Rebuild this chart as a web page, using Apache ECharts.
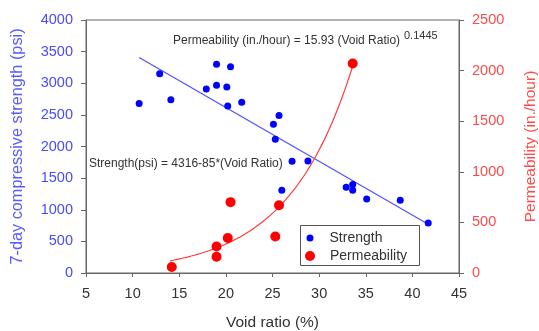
<!DOCTYPE html>
<html><head><meta charset="utf-8">
<script src="https://cdn.jsdelivr.net/npm/echarts@6/dist/echarts.min.js"></script>
<style>html,body{margin:0;padding:0;background:#fff}#c{width:539px;height:331px}</style>
</head><body><div id="c"></div>
<script>
// Void ratio (%) and 7-day compressive strength (psi)
const strengthVoid = [10.7, 12.9, 14.1, 17.9, 19.0, 19.0, 20.5, 20.1, 20.2, 21.7, 25.1, 25.7, 25.3, 27.1, 28.8, 26.0, 32.9, 33.6, 33.6, 35.1, 38.7, 41.7];
const strengthVals = [2680, 3150, 2740, 2910, 3300, 2970, 3260, 2940, 2640, 2700, 2350, 2490, 2115, 1765, 1770, 1310, 1355, 1400, 1310, 1170, 1150, 790];
// Void ratio (%) and permeability (in./hour)
const permVoid = [14.2, 19.0, 19.0, 20.2, 20.5, 25.3, 25.7, 33.6];
const permVals = [60, 160, 262, 345, 700, 360, 670, 2070];
// Regression coefficients shown on the chart
const strengthIntercept = 4316, strengthSlope = 85;
const permCoef = 15.93, permExp = 0.1445;
const strengthFitRange = [10.7, 41.7];
const permFitRange = [14.0, 33.6];
const xTicks = [5, 45, 5];

const strengthData = strengthVoid.map((x, i) => [x, strengthVals[i]]);
const permData = permVoid.map((x, i) => [x, permVals[i]]);
const strengthFit = strengthFitRange.map(x => [x, strengthIntercept - strengthSlope * x]);
const permFit = [];
for (let k = 0; k <= 60; k++) {
  const x = permFitRange[0] + (permFitRange[1] - permFitRange[0]) * k / 60;
  permFit.push([x, permCoef * Math.exp(permExp * x)]);
}

const FF = 'Liberation Sans, Arial, sans-serif';
const plain = v => String(v);
const chart = echarts.init(document.getElementById('c'), null, {renderer: 'canvas'});
chart.setOption({
  animation: false,
  backgroundColor: '#fff',
  grid: {left: 86, right: 80, top: 20, bottom: 58, containLabel: false, outerBoundsMode: 'none',
         show: true, borderColor: '#666', borderWidth: 1},
  xAxis: {
    type: 'value', min: xTicks[0], max: xTicks[1], interval: xTicks[2],
    name: 'Void ratio (%)', nameLocation: 'middle', nameGap: 42,
    nameTextStyle: {fontFamily: FF, fontSize: 15.5, color: '#333'},
    axisLine: {lineStyle: {color: '#666'}},
    axisTick: {show: true, length: 4, lineStyle: {color: '#666'}},
    axisLabel: {fontFamily: FF, fontSize: 14.5, color: '#333', margin: 13, formatter: plain},
    splitLine: {show: false}
  },
  yAxis: [{
    type: 'value', min: 0, max: 4000, interval: 500, position: 'left',
    name: '7-day compressive strength (psi)', nameLocation: 'middle', nameGap: 60, nameRotate: 90,
    nameTextStyle: {fontFamily: FF, fontSize: 16.3, color: '#5a5aff'},
    axisLine: {show: true, lineStyle: {color: '#666'}},
    axisTick: {show: true, length: 5, lineStyle: {color: '#666'}},
    axisLabel: {fontFamily: FF, fontSize: 14.5, color: '#4a4aff', margin: 13, formatter: plain},
    splitLine: {show: false}
  }, {
    type: 'value', min: 0, max: 2500, interval: 500, position: 'right',
    name: 'Permeability (in./hour)', nameLocation: 'middle', nameGap: 64, nameRotate: 90,
    nameTextStyle: {fontFamily: FF, fontSize: 15.5, color: '#ff4a4a'},
    axisLine: {show: true, lineStyle: {color: '#666'}},
    axisTick: {show: true, length: 5, lineStyle: {color: '#666'}},
    axisLabel: {fontFamily: FF, fontSize: 14.5, color: '#ff4a4a', margin: 13, formatter: plain},
    splitLine: {show: false}
  }],
  legend: [{
    data: ['Strength'], orient: 'vertical', left: 306.5, top: 231, padding: 0,
    itemWidth: 7, itemHeight: 7, icon: 'circle',
    textStyle: {fontFamily: FF, fontSize: 14, color: '#333', padding: [0, 0, 0, 11]}
  }, {
    data: ['Permeability'], orient: 'vertical', left: 305, top: 249, padding: 0,
    itemWidth: 10, itemHeight: 10, icon: 'circle',
    textStyle: {fontFamily: FF, fontSize: 14, color: '#333', padding: [0, 0, 0, 10]}
  }],
  graphic: [
    {type: 'rect', left: 300, top: 225, shape: {width: 119, height: 40},
     style: {fill: 'rgba(0,0,0,0)', stroke: '#555', lineWidth: 1}, z: 10},
    {type: 'text', left: 173, top: 35,
     style: {text: 'Permeability (in./hour) = 15.93 (Void Ratio)', font: '12px ' + FF, fill: '#333'}},
    {type: 'text', left: 404, top: 30,
     style: {text: '0.1445', font: '11px ' + FF, fill: '#333'}},
    {type: 'text', left: 89, top: 158,
     style: {text: 'Strength(psi) = 4316-85*(Void Ratio)', font: '12px ' + FF, fill: '#333'}}
  ],
  series: [
    {name: 'StrengthFit', type: 'line', yAxisIndex: 0, data: strengthFit, showSymbol: false, symbol: 'none',
     lineStyle: {color: '#5050ff', width: 1.2}, z: 1},
    {name: 'PermFit', type: 'line', yAxisIndex: 1, data: permFit, showSymbol: false, symbol: 'none', smooth: false,
     lineStyle: {color: '#ff3a3a', width: 1.2}, z: 1},
    {name: 'Strength', type: 'scatter', yAxisIndex: 0, data: strengthData, symbol: 'circle', symbolSize: 7,
     itemStyle: {color: '#0000ff', opacity: 1}, z: 3},
    {name: 'Permeability', type: 'scatter', yAxisIndex: 1, data: permData, symbol: 'circle', symbolSize: 10,
     itemStyle: {color: '#ff0000', opacity: 1}, z: 3}
  ]
});
</script></body></html>
